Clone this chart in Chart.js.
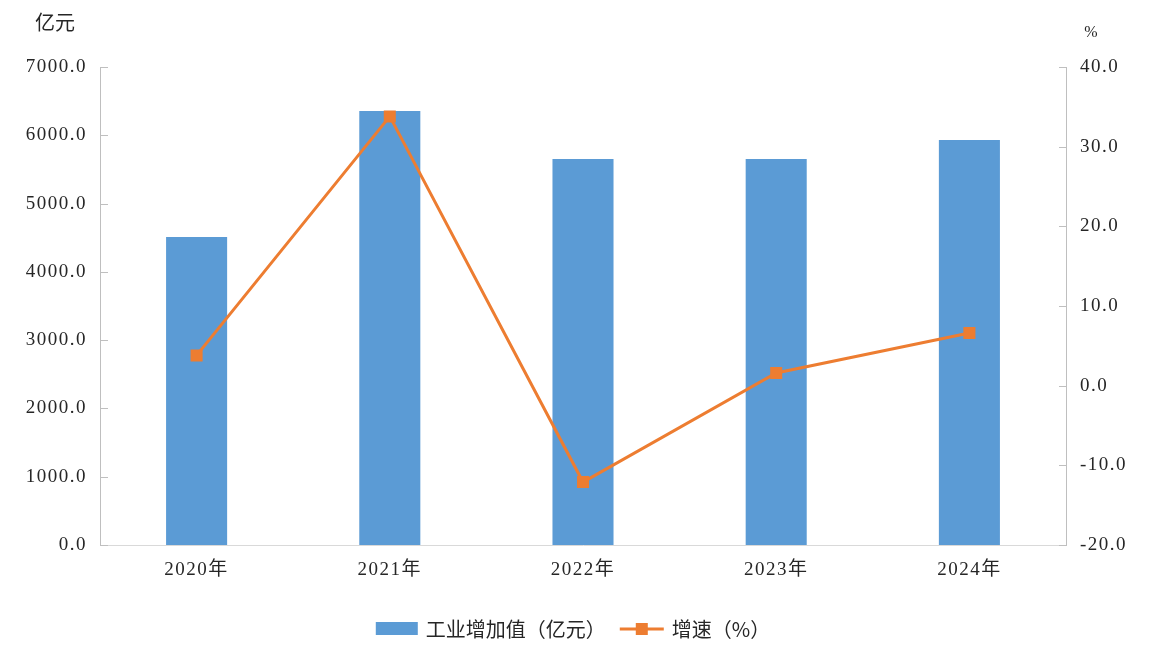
<!DOCTYPE html>
<html><head><meta charset="utf-8">
<script src="https://cdn.jsdelivr.net/npm/chart.js@4/dist/chart.umd.min.js"></script>
<style>html,body{margin:0;padding:0;background:#fff}#wrap{width:1158px;height:662px}</style>
</head><body><div id="wrap"><canvas id="c" width="1158" height="662"></canvas></div>
<script>
const categories = ["2020年","2021年","2022年","2023年","2024年"];
const valueAdded = [4510, 6355, 5652, 5652, 5930];
const growthRate = [3.8, 33.8, -12.1, 1.6, 6.6];
const leftTicks = [0,1000,2000,3000,4000,5000,6000,7000];
const rightTicks = [-20,-10,0,10,20,30,40];
const leftTitle = "亿元";
const rightTitle = "%";
const seriesNames = ["工业增加值（亿元）","增速（%）"];

const BLUE = "#5B9BD5", ORANGE = "#ED7D31", AXIS = "#BFBFBF", TXT = "#262626";
const serif = "'Liberation Serif','DejaVu Serif','Noto Sans CJK SC',serif";
const sans = "'Noto Sans CJK SC','Noto Sans',sans-serif";

const extras = {
  id: 'extras',
  beforeDraw(chart) { chart.ctx.letterSpacing = '1.5px'; },
  afterDraw(chart) {
    const ctx = chart.ctx;
    const y = chart.scales.y, y1 = chart.scales.y1;
    ctx.save();
    ctx.letterSpacing = '0px';
    // inward tick marks
    ctx.strokeStyle = AXIS; ctx.lineWidth = 1;
    y.ticks.forEach((t, i) => {
      const p = Math.round(y.getPixelForTick(i)) + 0.5;
      ctx.beginPath(); ctx.moveTo(y.right, p); ctx.lineTo(y.right + 8, p); ctx.stroke();
    });
    y1.ticks.forEach((t, i) => {
      const p = Math.round(y1.getPixelForTick(i)) + 0.5;
      ctx.beginPath(); ctx.moveTo(y1.left, p); ctx.lineTo(y1.left - 7, p); ctx.stroke();
    });
    // axis titles
    ctx.fillStyle = TXT;
    ctx.textBaseline = 'middle'; ctx.textAlign = 'center';
    ctx.font = "20px " + sans;
    ctx.fillText(leftTitle, 55, 22);
    ctx.font = "16px " + serif;
    ctx.fillText(rightTitle, 1091, 33);
    // legend
    const ds = chart.data.datasets;
    const bar = ds.find(d => d.type === 'bar'), line = ds.find(d => d.type === 'line');
    ctx.font = "20px " + sans;
    const w0 = ctx.measureText(bar.label).width, w1 = ctx.measureText(line.label).width;
    const boxW = 42, gap = 8, between = 14;
    const total = boxW + gap + w0 + between + 44 + gap + w1;
    let x = chart.width / 2 - total / 2 - 6;
    const ly = 629;
    ctx.fillStyle = bar.backgroundColor;
    ctx.fillRect(x, ly - 7, boxW, 13);
    x += boxW + gap;
    ctx.fillStyle = TXT; ctx.textAlign = 'left';
    ctx.fillText(bar.label, x, ly);
    x += w0 + between;
    ctx.strokeStyle = line.borderColor; ctx.lineWidth = 3;
    ctx.beginPath(); ctx.moveTo(x, ly); ctx.lineTo(x + 44, ly); ctx.stroke();
    ctx.fillStyle = line.backgroundColor;
    ctx.fillRect(x + 22 - 6, ly - 6, 12, 12);
    x += 44 + gap;
    ctx.fillStyle = TXT;
    ctx.fillText(line.label, x, ly);
    ctx.restore();
    ctx.letterSpacing = '0px';
  }
};

new Chart(document.getElementById('c'), {
  data: {
    labels: categories,
    datasets: [
      { type: 'line', label: seriesNames[1], data: growthRate, yAxisID: 'y1',
        borderColor: ORANGE, backgroundColor: ORANGE, borderWidth: 3,
        pointStyle: 'rect', pointRadius: 8.5, pointHoverRadius: 8.5,
        pointBorderWidth: 0, tension: 0, order: 0 },
      { type: 'bar', label: seriesNames[0], data: valueAdded, yAxisID: 'y',
        backgroundColor: BLUE, categoryPercentage: 1, barPercentage: 0.316, order: 1 }
    ]
  },
  options: {
    responsive: false, animation: false,
    layout: { padding: { top: 67, left: 0, right: 0, bottom: 0 } },
    plugins: { legend: { display: false }, tooltip: { enabled: false } },
    scales: {
      x: {
        grid: { display: false, drawTicks: false },
        border: { color: "#D9D9D9", width: 1 },
        ticks: { color: TXT, font: { family: serif, size: 19 }, padding: 14 },
        afterFit(s) { s.height = 117; }
      },
      y: {
        position: 'left', min: 0, max: 7000,
        afterBuildTicks(s) { s.ticks = leftTicks.map(v => ({ value: v })); },
        grid: { display: false, drawTicks: false },
        border: { color: AXIS, width: 1 },
        ticks: { color: TXT, font: { family: serif, size: 19 }, padding: 13,
                 callback: v => v.toFixed(1) },
        afterFit(s) { s.width = 100; }
      },
      y1: {
        position: 'right', min: -20, max: 40,
        afterBuildTicks(s) { s.ticks = rightTicks.map(v => ({ value: v })); },
        grid: { display: false, drawTicks: false },
        border: { color: AXIS, width: 1 },
        ticks: { color: TXT, font: { family: serif, size: 19 }, padding: 14,
                 callback: v => v.toFixed(1) },
        afterFit(s) { s.width = 92; }
      }
    }
  },
  plugins: [extras]
});
</script></body></html>
